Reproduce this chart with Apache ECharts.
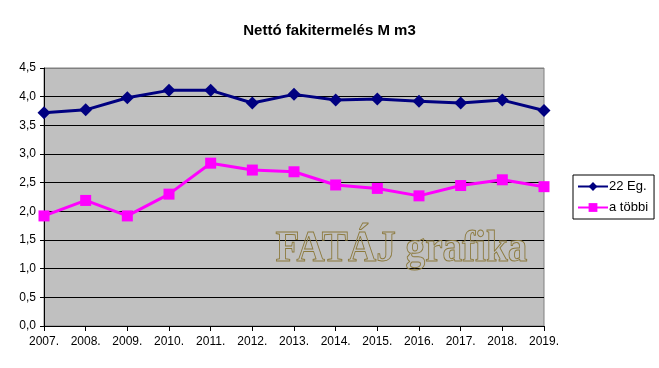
<!DOCTYPE html>
<html><head><meta charset="utf-8">
<script src="https://cdn.jsdelivr.net/npm/echarts@6/dist/echarts.min.js"></script>
<style>html,body{margin:0;padding:0;background:#fff}#c{width:659px;height:368px}</style>
</head><body><div id="c"></div>
<script>
const categories = ['2007.','2008.','2009.','2010.','2011.','2012.','2013.','2014.','2015.','2016.','2017.','2018.','2019.'];
const seriesEg = [3.72,3.77,3.98,4.11,4.11,3.89,4.04,3.94,3.96,3.92,3.89,3.94,3.76];
const seriesTobbi = [1.92,2.19,1.92,2.30,2.84,2.72,2.69,2.46,2.40,2.27,2.45,2.55,2.43];
const names = ['22 Eg.','a többi'];
const titleText = 'Nettó fakitermelés M m3';
const watermark = 'FATÁJ grafika';

const chart = echarts.init(document.getElementById('c'));
const font = 'Arial, "Liberation Sans", sans-serif';
chart.setOption({
  animation:false,
  backgroundColor:'#fff',
  title:{text:titleText,left:'center',top:18,textStyle:{fontFamily:font,fontSize:15,fontWeight:'bold',color:'#000'}},
  grid:{left:44,right:115,top:68,bottom:42,show:true,backgroundColor:'#c0c0c0',borderColor:'#808080',borderWidth:1},
  legend:{orient:'vertical',left:573,top:175,itemWidth:30,itemHeight:11,itemGap:8,
    padding:[5,6,5,4],borderColor:'#000',borderWidth:1,backgroundColor:'#fff',
    textStyle:{fontFamily:font,fontSize:13,color:'#000',padding:[0,0,0,-4]},
    data:names},
  xAxis:{type:'category',data:categories,boundaryGap:false,
    axisLine:{lineStyle:{color:'#000',width:1}},axisTick:{show:true,length:5,lineStyle:{color:'#000'}},
    axisLabel:{fontFamily:font,fontSize:12,color:'#000',margin:10,interval:0},splitLine:{show:false}},
  yAxis:{type:'value',min:0,max:4.5,interval:0.5,
    axisLine:{show:true,lineStyle:{color:'#000'}},axisTick:{show:true,length:4,lineStyle:{color:'#000'}},
    axisLabel:{fontFamily:font,fontSize:12,color:'#000',margin:8,formatter:v=>v.toFixed(1).replace('.',',')},
    splitLine:{show:true,lineStyle:{color:['#000','#000','#000','#000','#000','#000','#000','#000','#000','#808080'],width:1}}},
  graphic:[{type:'text',left:275,top:226,z:1,silent:true,scaleX:0.87,
    style:{text:watermark,font:'bold 45px "Liberation Serif", "Times New Roman", serif',fill:'rgba(0,0,0,0)',stroke:'#8c7a3e',lineWidth:1}}],
  series:[
    {name:names[0],type:'line',data:seriesEg,symbol:'diamond',symbolSize:13,z:5,
      lineStyle:{color:'#000080',width:3},itemStyle:{color:'#000080'}},
    {name:names[1],type:'line',data:seriesTobbi,symbol:'rect',symbolSize:11,z:5,
      lineStyle:{color:'#ff00ff',width:3},itemStyle:{color:'#ff00ff'}}
  ]
});
</script></body></html>
